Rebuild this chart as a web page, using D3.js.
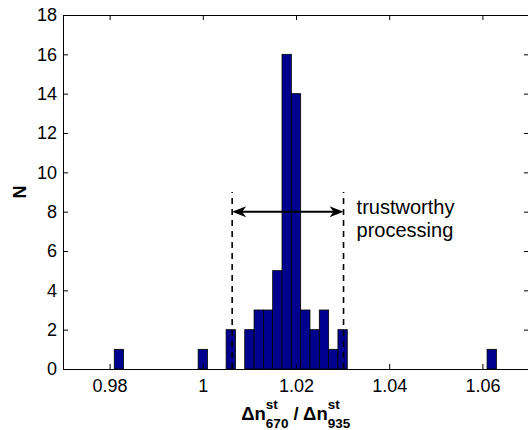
<!DOCTYPE html>
<html>
<head>
<meta charset="utf-8">
<script src="https://cdn.jsdelivr.net/npm/d3@7"></script>
<style>
  body { margin: 0; background: #fff; }
  text { font-family: "Liberation Sans", Arial, Helvetica, sans-serif; fill: #000; }
</style>
</head>
<body>
<svg id="chart"></svg>
<script>
// histogram bins (centres) and counts
var binCenters = [0.982, 1.000, 1.006, 1.010, 1.012, 1.014, 1.016, 1.018, 1.020, 1.022, 1.024, 1.026, 1.028, 1.030, 1.062];
var counts = [1, 1, 2, 2, 3, 3, 5, 16, 14, 3, 2, 3, 1, 2, 1];
var binWidth = 0.002;

var xTicks = [0.98, 1, 1.02, 1.04, 1.06];
var yTicks = [0, 2, 4, 6, 8, 10, 12, 14, 16, 18];

// trustworthy range and annotation
var rangeLimits = [1.0063, 1.0302];
var rangeLineTop = 9;
var arrowLevel = 8;
var noteLines = ["trustworthy", "processing"];

var data = binCenters.map(function(c, i) {
  return { center: c, n: counts[i] };
});

var W = 528, H = 430;
var margin = { top: 15, right: -1, bottom: 61, left: 63 };

var svg = d3.select("#chart")
  .attr("width", W)
  .attr("height", H);

var xScale = d3.scaleLinear()
  .domain([0.97, 1.07])
  .range([margin.left, W - margin.right]);

var yScale = d3.scaleLinear()
  .domain([0, 18])
  .range([H - margin.bottom, margin.top]);

var x0 = xScale.range()[0], x1 = xScale.range()[1];
var y0 = yScale.range()[0], y1 = yScale.range()[1];

// bars
svg.selectAll(".bar")
  .data(data)
  .enter()
  .append("rect")
  .attr("class", "bar")
  .attr("x", function(d) { return xScale(d.center - binWidth / 2); })
  .attr("y", function(d) { return yScale(d.n); })
  .attr("width", function(d) { return xScale(d.center + binWidth / 2) - xScale(d.center - binWidth / 2); })
  .attr("height", function(d) { return yScale(0) - yScale(d.n); })
  .style("fill", "#00008f")
  .style("stroke", "#000")
  .style("stroke-width", 0.8);

// axes, ticks inward on all four sides
var tickLen = 5;

var xAxisB = d3.axisBottom(xScale).tickValues(xTicks).tickSize(-tickLen).tickPadding(10)
  .tickFormat(function(d) { return d3.format("")(+d.toFixed(2)); });
var xAxisT = d3.axisTop(xScale).tickValues(xTicks).tickSize(-tickLen).tickFormat("");
var yAxisL = d3.axisLeft(yScale).tickValues(yTicks).tickSize(-tickLen).tickPadding(6);
var yAxisR = d3.axisRight(yScale).tickValues(yTicks).tickSize(-tickLen).tickFormat("");

function styleAxis(g) {
  g.select(".domain").remove();
  g.selectAll(".tick line").attr("stroke", "#000");
  g.selectAll(".tick text")
    .style("font-size", "18px")
    .style("font-family", "'Liberation Sans', Arial, sans-serif")
    .attr("fill", "#000");
}

svg.append("g").attr("transform", "translate(0," + y0 + ")").call(xAxisB).call(styleAxis);
svg.append("g").attr("transform", "translate(0," + y1 + ")").call(xAxisT).call(styleAxis);
svg.append("g").attr("transform", "translate(" + x0 + ",0)").call(yAxisL).call(styleAxis);
svg.append("g").attr("transform", "translate(" + x1 + ",0)").call(yAxisR).call(styleAxis);

svg.append("rect")
  .attr("x", x0 + 0.5)
  .attr("y", y1 + 0.5)
  .attr("width", x1 - x0)
  .attr("height", y0 - y1)
  .style("fill", "none")
  .style("stroke", "#000")
  .style("stroke-width", 1);

// dashed limits
svg.selectAll(".limit")
  .data(rangeLimits)
  .enter()
  .append("line")
  .attr("class", "limit")
  .attr("x1", function(d) { return xScale(d); })
  .attr("x2", function(d) { return xScale(d); })
  .attr("y1", yScale(0))
  .attr("y2", yScale(rangeLineTop))
  .style("stroke", "#000")
  .style("stroke-width", 1.6)
  .style("stroke-dasharray", "6,5");

// double arrow
var ax1 = xScale(rangeLimits[0]), ax2 = xScale(rangeLimits[1]), ay = yScale(arrowLevel);
svg.append("line")
  .attr("x1", ax1 + 4).attr("x2", ax2 - 4)
  .attr("y1", ay).attr("y2", ay)
  .style("stroke", "#000")
  .style("stroke-width", 2);

function head(tip, dir) {
  return "M" + tip + "," + ay +
    "L" + (tip + dir * 14) + "," + (ay - 5.5) +
    "L" + (tip + dir * 10) + "," + ay +
    "L" + (tip + dir * 14) + "," + (ay + 5.5) + "Z";
}
svg.append("path").attr("d", head(ax1, 1)).style("fill", "#000");
svg.append("path").attr("d", head(ax2, -1)).style("fill", "#000");

svg.selectAll(".note")
  .data(noteLines)
  .enter()
  .append("text")
  .attr("class", "note")
  .attr("x", xScale(1.033))
  .attr("y", function(d, i) { return ay + 2 + i * 23; })
  .style("font-size", "20px")
  .text(function(d) { return d; });

// y label
svg.append("text")
  .attr("transform", "translate(26," + ((y0 + y1) / 2) + ") rotate(-90)")
  .attr("text-anchor", "middle")
  .style("font-size", "18px")
  .style("font-weight", "bold")
  .text("N");

// x label with super/subscripts
var lab = svg.append("g").style("font-weight", "bold");
var cx = 0;
function piece(str, size, y) {
  var t = lab.append("text").attr("x", cx).attr("y", y)
    .style("font-size", size + "px")
    .style("white-space", "pre")
    .text(str);
  return t.node().getComputedTextLength();
}
function scripted(base, sup, sub) {
  cx += piece(base, 18.5, 0);
  var w1 = piece(sup, 13.5, -11);
  var w2 = piece(sub, 13.5, 8);
  cx += Math.max(w1, w2);
}
scripted("\u0394n", "st", "670");
scripted(" / \u0394n", "st", "935");
var bb = lab.node().getBBox();
lab.attr("transform", "translate(" + ((x0 + x1) / 2 - bb.width / 2) + ",420)");
</script>
</body>
</html>
